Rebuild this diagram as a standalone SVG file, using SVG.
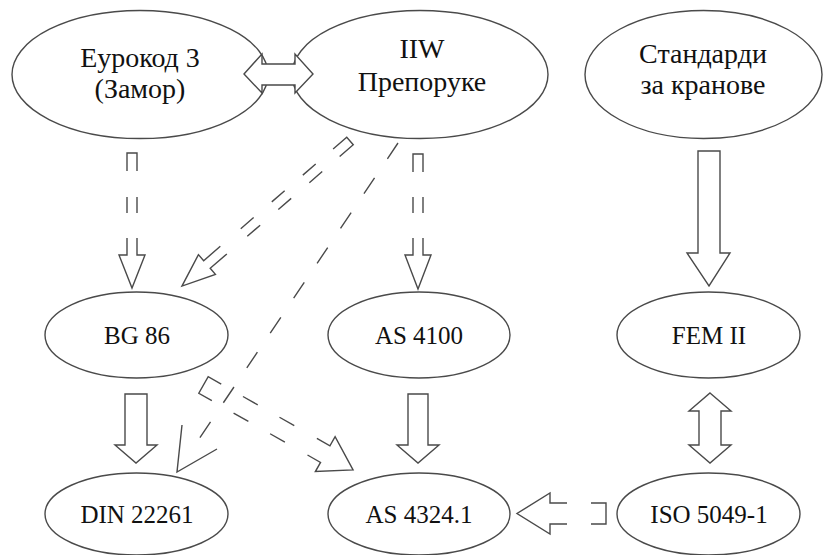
<svg xmlns="http://www.w3.org/2000/svg" width="826" height="555" viewBox="0 0 826 555">
<style>
.n{fill:#fff;stroke:#4a4a4a;stroke-width:1.4}
.t{font-family:'Liberation Serif','DejaVu Serif',serif;fill:#111;text-anchor:middle}
.t1{font-size:28px}
.t2{font-size:25px}
.a{fill:#fff;stroke:#4a4a4a;stroke-width:1.4;stroke-linejoin:miter}
.d{fill:none;stroke:#4a4a4a;stroke-width:1.4}
</style>
<rect width="826" height="555" fill="#fff"/>
<g id="nodes">
<g id="eurokod"><ellipse class="n" cx="140" cy="74.5" rx="128" ry="64"/><text class="t t1" x="140" y="67">Еурокод 3</text><text class="t t1" x="140" y="98">(Замор)</text></g>
<g id="iiw"><ellipse class="n" cx="420" cy="74.5" rx="128" ry="64"/><text class="t t1" x="422" y="58">IIW</text><text class="t t1" x="422" y="91">Препоруке</text></g>
<g id="kranove"><ellipse class="n" cx="703.5" cy="74.5" rx="118.5" ry="64"/><text class="t t1" x="703" y="63">Стандарди</text><text class="t t1" x="703" y="94">за кранове</text></g>
<g id="bg86"><ellipse class="n" cx="136.5" cy="335" rx="91.5" ry="43"/><text class="t t2" x="137" y="344">BG 86</text></g>
<g id="as4100"><ellipse class="n" cx="419" cy="335" rx="91" ry="43"/><text class="t t2" x="419" y="344">AS 4100</text></g>
<g id="fem"><ellipse class="n" cx="708.5" cy="335" rx="91.5" ry="43"/><text class="t t2" x="709" y="344">FEM II</text></g>
<g id="din"><ellipse class="n" cx="136.5" cy="514" rx="91.5" ry="41"/><text class="t t2" x="137" y="523">DIN 22261</text></g>
<g id="as4324"><ellipse class="n" cx="419" cy="514" rx="91" ry="41"/><text class="t t2" x="419" y="523">AS 4324.1</text></g>
<g id="iso"><ellipse class="n" cx="708.5" cy="514" rx="91.5" ry="41"/><text class="t t2" x="709" y="523">ISO 5049-1</text></g>
</g>
<g id="connectors">
<path class="a" d="M244,74 L262,54 V64 H295 V54 L313,74 L295,93 V85 H262 V93 Z"/>
<path class="d" d="M127,171 V153 H137 V171 M127,197 V213 M137,197 V213 M127,238 V255 H119 L132,288 L145,255 H137 V238"/>
<path class="d" d="M413,172 V154 H423 V172 M413,197 V213 M423,197 V213 M413,238 V255 H405 L418,289 L431,255 H423 V238"/>
<path class="d" transform="translate(350,141) rotate(139.2)" d="M18,-5 H0 V5 H18 M41,-5 H58 M41,5 H58 M82,-5 H99 M82,5 H99 M123,-5 H140 M123,5 H140 M167,-5 H189 V-13 L222,0 L189,13 V5 H167"/>
<line class="d" x1="398" y1="143" x2="199" y2="439" stroke-dasharray="19 23"/>
<path class="d" d="M182,425 L177,472 L217,449"/>
<path class="a" d="M698,151 H720 V253 H730 L709,286 L687,253 H698 Z"/>
<path class="a" d="M125,394 H147 V445 H157 L136,463 L115,445 H125 Z"/>
<path class="d" transform="translate(203.5,385) rotate(29.6)" d="M15,-9.5 H0 V9.5 H15 M40,-9.5 H57 M40,9.5 H57 M82,-9.5 H99 M82,9.5 H99 M125,-9.5 H140 V-20 L172,0 L140,20 V9.5 H125"/>
<path class="a" d="M408,394 H428 V445 H439 L418,463 L397,445 H408 Z"/>
<path class="a" d="M710,393 L731,411 H721 V445 H731 L710,463 L689,445 H699 V411 H689 Z"/>
<path class="d" d="M591,503 H606 V524 H591 M567,503 H550 V493 L517,513.5 L550,534 V524 H567"/>
</g>
</svg>
